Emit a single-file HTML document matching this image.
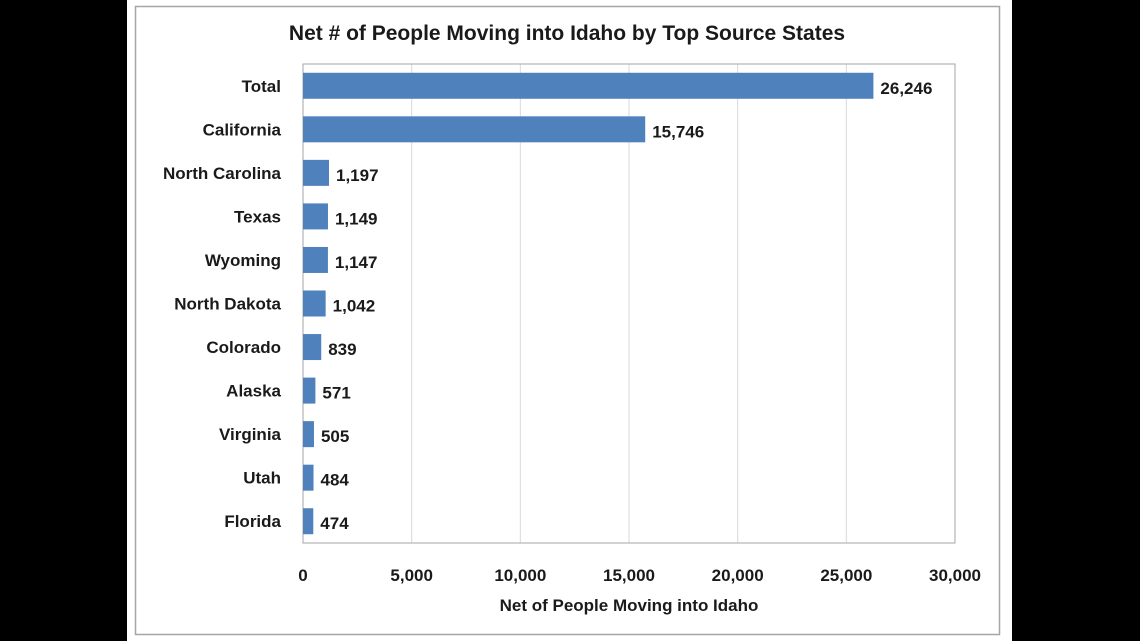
<!DOCTYPE html>
<html><head><meta charset="utf-8"><style>
html,body{margin:0;padding:0;background:#000;}
svg{display:block;font-family:"Liberation Sans",sans-serif;font-weight:bold;}
</style></head><body>
<svg width="1140" height="641" viewBox="0 0 1140 641">
<rect x="127" y="0" width="885" height="641" fill="#fff"/>
<rect x="135.5" y="6.5" width="864" height="628" fill="#fff" stroke="#a6a6a6" stroke-width="1.5"/>
<text x="567" y="40" text-anchor="middle" font-size="21" fill="#1a1a1a">Net # of People Moving into Idaho by Top Source States</text>
<g id="grid"></g>
<g id="bars"></g>
<g id="xt"></g>
<text x="629" y="611" text-anchor="middle" font-size="17" fill="#1a1a1a">Net of People Moving into Idaho</text>
<script>
const categories=["Total","California","North Carolina","Texas","Wyoming","North Dakota","Colorado","Alaska","Virginia","Utah","Florida"];
const values=[26246,15746,1197,1149,1147,1042,839,571,505,484,474];
const ticks=[0,5000,10000,15000,20000,25000,30000];
const NS="http://www.w3.org/2000/svg";
const L=303,R=955,T=64,B=543;
const x=v=>L+(v-0)/30000*(R-L);
const band=(B-T)/categories.length;
const yc=i=>T+band*(i+0.5);
function mk(tag,attrs,parent){const e=document.createElementNS(NS,tag);for(const k in attrs)e.setAttribute(k,attrs[k]);parent.appendChild(e);return e;}
const g=document.getElementById('grid'),b=document.getElementById('bars'),xt=document.getElementById('xt');
ticks.forEach(t=>{
 if(t>0){const l=mk('line',{x1:x(t),x2:x(t),y1:T,y2:B,stroke:'#d9d9d9','stroke-width':1},g);
 
 }
 const tx=mk('text',{x:x(t),y:581,'text-anchor':'middle','font-size':17,fill:'#1a1a1a'},xt);
 tx.textContent=t.toLocaleString('en-US');
 
 
});
const fr=mk('rect',{x:L,y:T,width:R-L,height:B-T,fill:'none',stroke:'#a6a6a6','stroke-width':1},g);


categories.forEach((c,i)=>{
 const r=mk('rect',{x:L,y:yc(i)-13,width:x(values[i])-L,height:26,fill:'#4f81bd'},b);
 
 
 const lb=mk('text',{x:281,y:yc(i)+6,'text-anchor':'end','font-size':17,fill:'#1a1a1a'},b);
 lb.textContent=c;
 
 
 const vl=mk('text',{x:x(values[i])+7,y:yc(i)+8,'font-size':17,fill:'#1a1a1a'},b);
 vl.textContent=values[i].toLocaleString('en-US');
 
 
});
</script>
</svg>
</body></html>
